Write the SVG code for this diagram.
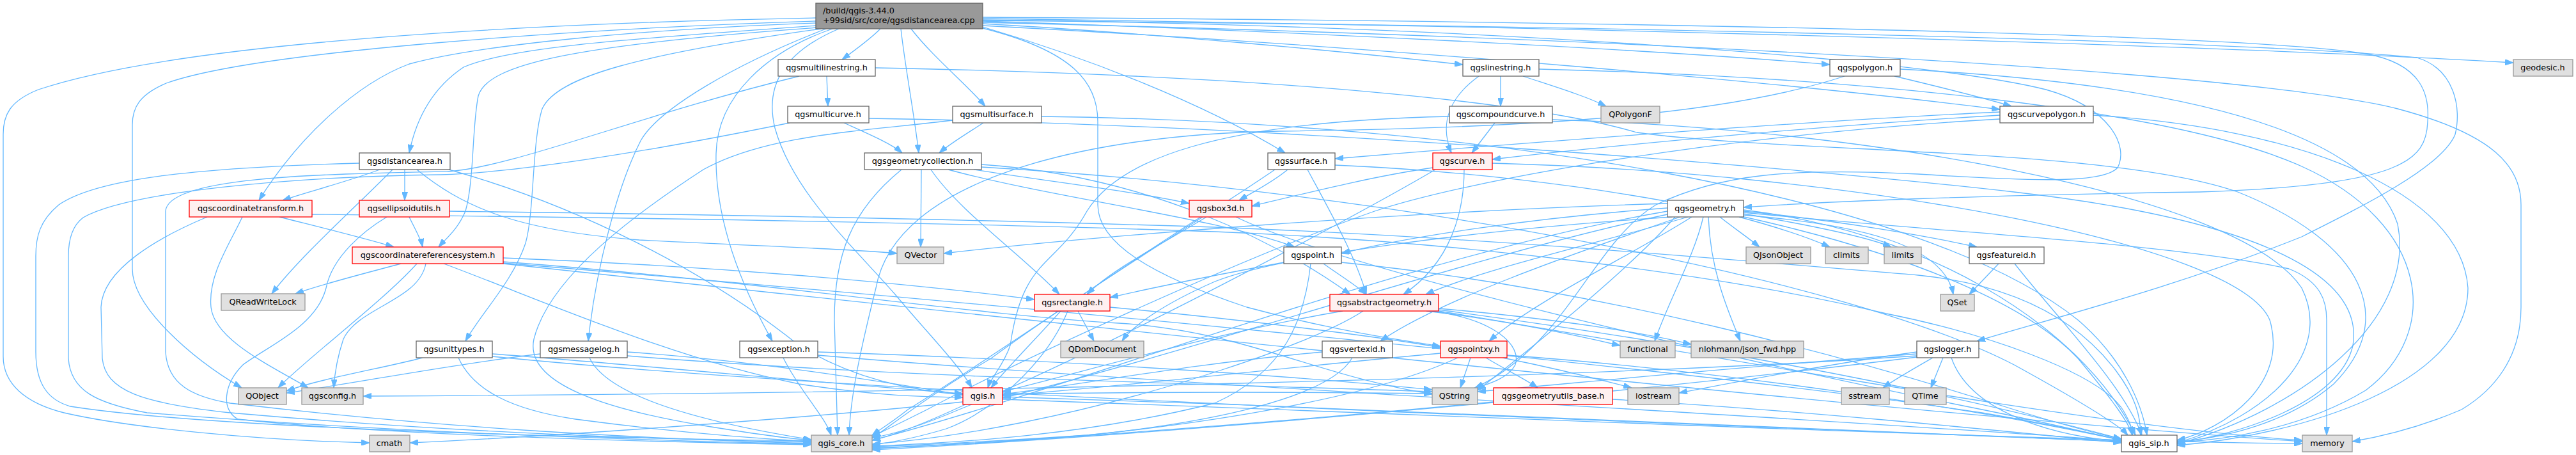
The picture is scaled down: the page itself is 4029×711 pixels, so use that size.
<svg xmlns="http://www.w3.org/2000/svg" width="4029" height="711" viewBox="0 0 4029 711">
<style>
.e{fill:none;stroke:#63b8ff;stroke-width:1.3;marker-end:url(#ah)}
rect{stroke-width:1.3}
.n{fill:#ffffff;stroke:#666666}
.m{fill:#999999;stroke:#666666}
.r{fill:#fff0f0;stroke:#ff0000}
.g{fill:#e0e0e0;stroke:#999999}
text{font-family:"DejaVu Sans","Liberation Sans",sans-serif;font-size:12.8px;fill:#000000;text-anchor:middle}
text.l{text-anchor:start}
</style>
<defs>
<marker id="ah" markerUnits="userSpaceOnUse" markerWidth="13" markerHeight="9" refX="13" refY="4.5" orient="auto">
<path d="M0,0 L13,4.5 L0,9 Z" fill="#63b8ff" stroke="#63b8ff" stroke-width="1"/>
</marker>
</defs>
<rect x="0" y="0" width="4029" height="711" fill="#ffffff"/>
<g id="edges">
<path class="e" d="M1276,28 C900,35 300,60 60,140 C15,158 5,180 5,210 L5,557 C5,600 40,630 100,645 C200,668 400,688 578,692"/>
<path class="e" d="M1276,33 C900,45 400,80 260,130 C218,148 207,168 207,195 L207,420 C207,480 300,560 378,606"/>
<path class="e" d="M1276,36 C1000,46 750,70 640,100 C560,130 470,210 405,313"/>
<path class="e" d="M1278,40 C1000,60 800,72 725,105 C680,135 652,180 640,239"/>
<path class="e" d="M1280,43 C900,70 762,100 748,150 C738,200 742,280 728,330 C715,360 698,372 686,386"/>
<path class="e" d="M1284,45 C1000,85 870,120 848,170 C832,220 836,330 822,380 C802,440 752,490 728,533"/>
<path class="e" d="M1292,45 C1150,100 1030,170 1002,220 C966,290 932,420 920,533"/>
<path class="e" d="M1302,45 C1200,80 1122,150 1120,240 C1118,330 1150,430 1208,533"/>
<path class="e" d="M1312,45 C1230,80 1195,130 1212,200 C1240,300 1330,380 1400,460 C1450,520 1500,570 1520,606"/>
<path class="e" d="M1377,45 C1360,62 1335,80 1317,93"/>
<path class="e" d="M1409,45 C1415,100 1430,180 1437,239"/>
<path class="e" d="M1425,45 C1460,90 1510,130 1541,166"/>
<path class="e" d="M1537,42 C1700,90 1880,160 2010,239"/>
<path class="e" d="M1537,44 C1680,80 1717,130 1717,190 L1717,320 C1717,380 1800,430 1950,480 C2080,515 2180,530 2253,541"/>
<path class="e" d="M1537,37 C1800,52 2100,80 2288,101"/>
<path class="e" d="M1537,33 C2000,48 2600,78 2862,101"/>
<path class="e" d="M1537,40 C2200,75 2800,130 3128,171"/>
<path class="e" d="M1537,29 C2500,42 3500,72 3931,98"/>
<path class="e" d="M1537,27 C2500,33 3500,52 3700,84 C3790,100 3800,150 3797,190 C3795,250 3760,290 3440,300 C3100,305 2850,315 2727,324"/>
<path class="e" d="M1537,31 C2300,40 3000,90 3200,140 C3300,168 3330,228 3312,262 C3292,285 3200,285 3000,272 C2800,262 2690,272 2590,320 C2490,380 2450,540 2307,606"/>
<path class="e" d="M1537,32 C2500,40 3500,63 3780,90 C3840,108 3850,170 3840,210 C3820,260 3700,320 3600,370 C3400,450 3200,500 3092,533"/>
<path class="e" d="M1537,35 C2500,58 3500,108 3750,170 C3900,210 3943,260 3943,320 L3943,480 C3943,560 3900,610 3850,640 C3780,670 3720,683 3679,690"/>
<path class="e" d="M562,255 C300,262 150,280 92,320 C62,345 56,370 56,400 L56,550 C56,600 75,625 110,635 C300,665 800,683 1269,689"/>
<path class="e" d="M652,265 C720,320 800,360 1000,375 C1200,385 1350,390 1403,396"/>
<path class="e" d="M702,265 C900,320 1100,420 1250,540 C1330,590 1420,610 1506,617"/>
<path class="e" d="M594,265 C540,285 480,300 442,313"/>
<path class="e" d="M633,265 L633,313"/>
<path class="e" d="M614,265 C560,320 470,400 425,459"/>
<path class="e" d="M437,339 C500,355 570,372 616,386"/>
<path class="e" d="M324,339 C250,370 160,420 158,480 L160,560 C165,610 220,630 360,645 C700,675 1000,686 1269,691"/>
<path class="e" d="M379,339 C360,380 325,430 330,480 C335,530 420,570 482,606"/>
<path class="e" d="M488,335 C1000,340 1500,348 1900,362 C2300,378 2700,430 2950,490 C3100,520 3280,580 3320,640 C3332,660 3335,670 3335,680"/>
<path class="e" d="M640,339 C650,360 658,372 661,386"/>
<path class="e" d="M605,339 C570,360 520,400 510,450 C495,510 420,540 380,570 C350,600 345,640 372,655 C600,680 1000,690 1269,695"/>
<path class="e" d="M703,330 C1100,335 1500,342 1900,355 C2300,370 2700,405 3000,430 C3150,445 3250,500 3310,580 C3340,620 3348,650 3348,680"/>
<path class="e" d="M627,412 C560,430 500,445 462,459"/>
<path class="e" d="M652,412 C600,470 480,560 435,606"/>
<path class="e" d="M666,412 C655,470 560,480 537,530 C527,560 523,590 522,606"/>
<path class="e" d="M694,412 C850,470 1050,560 1250,600 C1380,620 1450,620 1506,621"/>
<path class="e" d="M787,403 C1100,415 1400,440 1618,468"/>
<path class="e" d="M787,409 C1200,440 1500,490 1750,505 C1950,518 2050,585 2240,616"/>
<path class="e" d="M787,411 C1500,470 2600,570 3100,645 C3200,662 3270,677 3318,687"/>
<path class="e" d="M787,412 C1600,500 3000,650 3601,690"/>
<path class="e" d="M661,559 C600,575 500,592 448,611"/>
<path class="e" d="M717,559 C740,610 800,640 900,655 C1050,675 1180,685 1269,690"/>
<path class="e" d="M770,553 C1000,570 1300,600 1506,615"/>
<path class="e" d="M770,557 C1400,620 2600,660 3318,690"/>
<path class="e" d="M845,553 C700,570 550,600 448,614"/>
<path class="e" d="M922,559 C950,620 1100,660 1269,687"/>
<path class="e" d="M981,550 C1200,565 1400,600 1506,617"/>
<path class="e" d="M981,556 C1400,590 1900,600 2240,612"/>
<path class="e" d="M1225,559 C1250,610 1290,650 1300,680"/>
<path class="e" d="M1279,550 C1600,560 2000,585 2240,609"/>
<path class="e" d="M1279,555 C1800,600 2800,650 3318,689"/>
<path class="e" d="M1293,119 L1295,166"/>
<path class="e" d="M1250,119 C1000,180 800,262 700,268 C500,272 262,276 259,330 L259,550 C262,600 300,620 360,630 C700,670 1000,685 1269,693"/>
<path class="e" d="M1369,106 C2000,118 2400,160 2560,207 C2800,240 3300,230 3500,300 C3700,380 3750,500 3650,600 C3580,660 3480,685 3405,690"/>
<path class="e" d="M1320,192 C1360,210 1395,225 1411,239"/>
<path class="e" d="M1235,192 C1000,240 800,270 690,273 C450,276 200,300 130,340 C110,355 107,380 107,400 L107,560 C110,610 150,630 230,645 C600,675 1000,688 1269,694"/>
<path class="e" d="M1359,185 C2000,195 2800,260 3150,300 C3500,340 3700,420 3680,540 C3660,630 3500,680 3405,692"/>
<path class="e" d="M1441,265 L1440,386"/>
<path class="e" d="M1456,265 C1500,330 1600,400 1657,460"/>
<path class="e" d="M1483,265 C1650,310 1900,340 2025,386"/>
<path class="e" d="M1523,265 C1650,285 1780,300 1860,318"/>
<path class="e" d="M1535,257 C1800,275 2000,380 2112,460"/>
<path class="e" d="M1410,265 C1330,330 1305,400 1305,500 L1310,680"/>
<path class="e" d="M1535,261 C2200,300 2900,440 3150,570 C3250,625 3315,665 3328,680"/>
<path class="e" d="M1538,192 C1510,210 1485,225 1469,239"/>
<path class="e" d="M1490,188 C1350,205 1200,210 1100,265 C1000,330 860,430 835,530 C820,600 950,640 1100,665 C1180,678 1230,685 1269,688"/>
<path class="e" d="M1629,182 C2300,190 3000,300 3250,500 C3320,560 3350,630 3358,680"/>
<path class="e" d="M2014,265 C1990,285 1960,300 1938,313"/>
<path class="e" d="M1994,265 C1900,330 1700,450 1550,560 C1450,620 1400,660 1364,685"/>
<path class="e" d="M2045,265 C2080,330 2120,400 2137,460"/>
<path class="e" d="M2088,258 C2600,280 3100,400 3250,560 C3300,620 3330,660 3335,680"/>
<path class="e" d="M1887,339 C1820,380 1740,420 1700,460"/>
<path class="e" d="M1878,339 C1750,420 1550,560 1420,640 C1395,660 1375,672 1364,680"/>
<path class="e" d="M1933,339 C2100,420 2700,560 3100,640 C3200,660 3280,680 3318,688"/>
<path class="e" d="M1686,486 L1711,533"/>
<path class="e" d="M1659,486 C1620,530 1570,580 1550,606"/>
<path class="e" d="M1670,486 C1640,560 1560,640 1480,670 C1430,685 1390,692 1364,695"/>
<path class="e" d="M1736,480 C1950,500 2150,525 2253,543"/>
<path class="e" d="M1506,628 C1300,650 900,680 641,692"/>
<path class="e" d="M1510,632 C1450,660 1400,680 1364,688"/>
<path class="e" d="M1568,620 C2200,640 2900,670 3318,690"/>
<path class="e" d="M1568,624 C2300,650 3200,690 3601,693"/>
<path class="e" d="M1568,616 C1800,612 2000,612 2240,615"/>
<path class="e" d="M2070,412 C2095,430 2120,445 2137,460"/>
<path class="e" d="M2008,410 C1900,430 1800,450 1736,465"/>
<path class="e" d="M2050,412 C2040,500 2010,580 1900,630 C1700,680 1500,692 1364,697"/>
<path class="e" d="M2098,410 C2500,450 2900,560 3150,640 C3230,665 3290,680 3318,686"/>
<path class="e" d="M2231,486 C2350,500 2450,520 2534,540"/>
<path class="e" d="M2250,482 C2400,495 2550,515 2645,538"/>
<path class="e" d="M2240,486 C2340,500 2380,540 2370,570 C2360,590 2330,600 2305,607"/>
<path class="e" d="M2100,486 C1900,520 1700,580 1568,612"/>
<path class="e" d="M2132,486 C2050,540 1800,620 1600,660 C1500,680 1420,690 1364,694"/>
<path class="e" d="M2250,484 C2600,530 3000,600 3318,686"/>
<path class="e" d="M2250,486 C2700,560 3300,670 3601,688"/>
<path class="e" d="M2068,550 C1850,570 1700,600 1568,616"/>
<path class="e" d="M2115,559 C2080,620 1900,660 1700,680 C1550,690 1450,695 1364,698"/>
<path class="e" d="M2300,559 L2284,606"/>
<path class="e" d="M2324,559 C2350,575 2385,592 2405,606"/>
<path class="e" d="M2350,559 C2430,575 2510,595 2552,606"/>
<path class="e" d="M2253,552 C2000,575 1750,605 1568,618"/>
<path class="e" d="M2280,559 C2150,620 1900,660 1700,680 C1550,692 1450,697 1364,700"/>
<path class="e" d="M2357,555 C2700,580 3100,640 3318,688"/>
<path class="e" d="M2522,624 C2800,640 3100,670 3318,692"/>
<path class="e" d="M2336,628 C2000,660 1600,690 1364,701"/>
<path class="e" d="M3023,559 C2995,575 2965,592 2945,606"/>
<path class="e" d="M3039,559 L3020,606"/>
<path class="e" d="M3052,559 C3080,640 3200,680 3318,690"/>
<path class="e" d="M2998,550 C2850,570 2700,600 2626,614"/>
<path class="e" d="M2998,553 C2700,575 2450,600 2311,612"/>
<path class="e" d="M2998,556 C2500,590 1500,615 568,619"/>
<path class="e" d="M2998,558 C2500,620 1800,680 1364,703"/>
<path class="e" d="M3126,412 L3080,460"/>
<path class="e" d="M3151,412 C3220,500 3320,600 3350,680"/>
<path class="e" d="M2347,119 L2347,166"/>
<path class="e" d="M2313,119 C2270,150 2250,190 2270,239"/>
<path class="e" d="M2382,119 C2430,135 2480,150 2512,166"/>
<path class="e" d="M2407,108 C2900,120 3400,170 3600,260 C3800,350 3820,520 3700,610 C3600,670 3480,688 3405,691"/>
<path class="e" d="M2338,192 L2302,239"/>
<path class="e" d="M2267,182 C1900,190 1750,250 1700,330 C1650,420 1600,400 1580,540 C1570,570 1550,590 1545,606"/>
<path class="e" d="M2428,187 C2900,200 3500,300 3600,450 C3650,550 3550,650 3405,692"/>
<path class="e" d="M2290,265 C2290,330 2270,410 2195,460"/>
<path class="e" d="M2241,262 C2150,275 2050,300 1958,322"/>
<path class="e" d="M2245,265 C2100,350 1700,560 1500,640 C1430,670 1390,680 1364,684"/>
<path class="e" d="M2334,255 C2900,270 3500,380 3550,500 C3580,600 3480,670 3405,688"/>
<path class="e" d="M2620,339 C2550,420 2400,540 2311,610"/>
<path class="e" d="M2608,318 C2200,330 1700,370 1476,396"/>
<path class="e" d="M2615,339 C2300,360 2000,400 1900,440 C1820,475 1770,510 1755,533"/>
<path class="e" d="M2608,325 C2400,340 2200,370 2098,396"/>
<path class="e" d="M2640,339 C2500,380 2320,420 2230,460"/>
<path class="e" d="M2646,339 C2550,400 2400,470 2329,533"/>
<path class="e" d="M2628,339 C2450,400 2250,470 2159,533"/>
<path class="e" d="M2690,339 C2710,355 2735,372 2752,386"/>
<path class="e" d="M2720,339 C2780,355 2830,372 2862,386"/>
<path class="e" d="M2727,334 C2820,350 2920,370 2958,386"/>
<path class="e" d="M2727,330 C2880,345 3020,370 3092,386"/>
<path class="e" d="M2727,336 C2900,350 3040,380 3055,460"/>
<path class="e" d="M2664,339 C2650,400 2610,470 2588,533"/>
<path class="e" d="M2672,339 C2675,420 2700,480 2722,533"/>
<path class="e" d="M2727,328 C3000,360 3250,500 3340,680"/>
<path class="e" d="M2727,332 C3000,360 3400,380 3580,420 C3630,440 3639,470 3639,500 L3639,680"/>
<path class="e" d="M2608,330 C2200,400 1700,600 1364,688"/>
<path class="e" d="M2608,335 C2300,400 1900,540 1568,622"/>
<path class="e" d="M2963,119 C3030,135 3100,152 3146,166"/>
<path class="e" d="M2885,119 C2700,180 2400,200 2000,205 C1700,210 1400,280 1370,450 C1345,550 1330,620 1328,680"/>
<path class="e" d="M2972,108 C3400,130 3700,200 3750,350 C3780,500 3600,640 3405,694"/>
<path class="e" d="M3128,175 C2800,190 2300,230 2088,248"/>
<path class="e" d="M3128,180 C2800,200 2500,230 2334,249"/>
<path class="e" d="M3128,186 C2700,210 2300,280 2150,330 C1950,400 1600,560 1450,640 C1400,665 1380,675 1364,682"/>
<path class="e" d="M3274,180 C3600,200 3850,300 3860,450 C3860,600 3600,680 3405,696"/>
</g>
<g id="n_main"><rect class="m" x="1276" y="5" width="261" height="40"/><text class="l" x="1287" y="21">/build/qgis-3.44.0</text><text class="l" x="1287" y="36">+99sid/src/core/qgsdistancearea.cpp</text></g>
<g id="n_qgsdistancearea_h"><rect class="n" x="562" y="239" width="142" height="26"/><text x="633" y="256">qgsdistancearea.h</text></g>
<g id="n_qgscoordinatetransform_h"><rect class="r" x="296" y="313" width="192" height="26"/><text x="392" y="330">qgscoordinatetransform.h</text></g>
<g id="n_qgsellipsoidutils_h"><rect class="r" x="562" y="313" width="141" height="26"/><text x="632" y="330">qgsellipsoidutils.h</text></g>
<g id="n_qgscoordinatereferencesystem_h"><rect class="r" x="551" y="386" width="236" height="26"/><text x="669" y="403">qgscoordinatereferencesystem.h</text></g>
<g id="n_QReadWriteLock"><rect class="g" x="346" y="459" width="131" height="26"/><text x="411" y="476">QReadWriteLock</text></g>
<g id="n_QObject"><rect class="g" x="373" y="606" width="75" height="26"/><text x="410" y="623">QObject</text></g>
<g id="n_qgsconfig_h"><rect class="g" x="472" y="606" width="96" height="26"/><text x="520" y="623">qgsconfig.h</text></g>
<g id="n_cmath"><rect class="g" x="578" y="680" width="63" height="26"/><text x="609" y="697">cmath</text></g>
<g id="n_qgsunittypes_h"><rect class="n" x="651" y="533" width="119" height="26"/><text x="710" y="550">qgsunittypes.h</text></g>
<g id="n_qgsmessagelog_h"><rect class="n" x="845" y="533" width="136" height="26"/><text x="913" y="550">qgsmessagelog.h</text></g>
<g id="n_qgsexception_h"><rect class="n" x="1157" y="533" width="122" height="26"/><text x="1218" y="550">qgsexception.h</text></g>
<g id="n_qgis_core_h"><rect class="g" x="1269" y="680" width="95" height="26"/><text x="1316" y="697">qgis_core.h</text></g>
<g id="n_qgsmultilinestring_h"><rect class="n" x="1217" y="93" width="152" height="26"/><text x="1293" y="110">qgsmultilinestring.h</text></g>
<g id="n_qgsmulticurve_h"><rect class="n" x="1232" y="166" width="127" height="26"/><text x="1295" y="183">qgsmulticurve.h</text></g>
<g id="n_qgsgeometrycollection_h"><rect class="n" x="1352" y="239" width="183" height="26"/><text x="1443" y="256">qgsgeometrycollection.h</text></g>
<g id="n_qgsmultisurface_h"><rect class="n" x="1490" y="166" width="139" height="26"/><text x="1559" y="183">qgsmultisurface.h</text></g>
<g id="n_qgssurface_h"><rect class="n" x="1983" y="239" width="105" height="26"/><text x="2035" y="256">qgssurface.h</text></g>
<g id="n_qgsbox3d_h"><rect class="r" x="1860" y="313" width="98" height="26"/><text x="1909" y="330">qgsbox3d.h</text></g>
<g id="n_QVector"><rect class="g" x="1403" y="386" width="73" height="26"/><text x="1440" y="403">QVector</text></g>
<g id="n_qgsrectangle_h"><rect class="r" x="1618" y="460" width="118" height="26"/><text x="1677" y="477">qgsrectangle.h</text></g>
<g id="n_QDomDocument"><rect class="g" x="1659" y="533" width="130" height="26"/><text x="1724" y="550">QDomDocument</text></g>
<g id="n_qgis_h"><rect class="r" x="1506" y="606" width="62" height="26"/><text x="1537" y="623">qgis.h</text></g>
<g id="n_qgspoint_h"><rect class="n" x="2008" y="386" width="90" height="26"/><text x="2053" y="403">qgspoint.h</text></g>
<g id="n_qgsabstractgeometry_h"><rect class="r" x="2080" y="460" width="170" height="26"/><text x="2165" y="477">qgsabstractgeometry.h</text></g>
<g id="n_qgsvertexid_h"><rect class="n" x="2068" y="533" width="110" height="26"/><text x="2123" y="550">qgsvertexid.h</text></g>
<g id="n_qgspointxy_h"><rect class="r" x="2253" y="533" width="104" height="26"/><text x="2305" y="550">qgspointxy.h</text></g>
<g id="n_QString"><rect class="g" x="2240" y="606" width="71" height="26"/><text x="2275" y="623">QString</text></g>
<g id="n_qgsgeometryutils_base_h"><rect class="r" x="2336" y="606" width="186" height="26"/><text x="2429" y="623">qgsgeometryutils_base.h</text></g>
<g id="n_iostream"><rect class="g" x="2546" y="606" width="80" height="26"/><text x="2586" y="623">iostream</text></g>
<g id="n_functional"><rect class="g" x="2534" y="533" width="86" height="26"/><text x="2577" y="550">functional</text></g>
<g id="n_nlohmann_json_fwd_hpp"><rect class="g" x="2645" y="533" width="176" height="26"/><text x="2733" y="550">nlohmann/json_fwd.hpp</text></g>
<g id="n_QJsonObject"><rect class="g" x="2731" y="386" width="101" height="26"/><text x="2781" y="403">QJsonObject</text></g>
<g id="n_climits"><rect class="g" x="2855" y="386" width="67" height="26"/><text x="2888" y="403">climits</text></g>
<g id="n_limits"><rect class="g" x="2947" y="386" width="58" height="26"/><text x="2976" y="403">limits</text></g>
<g id="n_qgsfeatureid_h"><rect class="n" x="3080" y="386" width="117" height="26"/><text x="3138" y="403">qgsfeatureid.h</text></g>
<g id="n_QSet"><rect class="g" x="3035" y="460" width="53" height="26"/><text x="3061" y="477">QSet</text></g>
<g id="n_qgslogger_h"><rect class="n" x="2998" y="533" width="97" height="26"/><text x="3046" y="550">qgslogger.h</text></g>
<g id="n_sstream"><rect class="g" x="2880" y="606" width="75" height="26"/><text x="2917" y="623">sstream</text></g>
<g id="n_QTime"><rect class="g" x="2979" y="606" width="65" height="26"/><text x="3011" y="623">QTime</text></g>
<g id="n_qgis_sip_h"><rect class="n" x="3318" y="680" width="87" height="26"/><text x="3361" y="697">qgis_sip.h</text></g>
<g id="n_qgslinestring_h"><rect class="n" x="2288" y="93" width="119" height="26"/><text x="2347" y="110">qgslinestring.h</text></g>
<g id="n_qgscompoundcurve_h"><rect class="n" x="2267" y="166" width="161" height="26"/><text x="2347" y="183">qgscompoundcurve.h</text></g>
<g id="n_QPolygonF"><rect class="g" x="2504" y="166" width="92" height="26"/><text x="2550" y="183">QPolygonF</text></g>
<g id="n_qgscurve_h"><rect class="r" x="2241" y="239" width="93" height="26"/><text x="2287" y="256">qgscurve.h</text></g>
<g id="n_qgsgeometry_h"><rect class="n" x="2608" y="313" width="119" height="26"/><text x="2667" y="330">qgsgeometry.h</text></g>
<g id="n_qgspolygon_h"><rect class="n" x="2862" y="93" width="110" height="26"/><text x="2917" y="110">qgspolygon.h</text></g>
<g id="n_qgscurvepolygon_h"><rect class="n" x="3128" y="166" width="146" height="26"/><text x="3201" y="183">qgscurvepolygon.h</text></g>
<g id="n_geodesic_h"><rect class="g" x="3931" y="93" width="93" height="26"/><text x="3977" y="110">geodesic.h</text></g>
<g id="n_memory"><rect class="g" x="3601" y="680" width="78" height="26"/><text x="3640" y="697">memory</text></g>
</svg>
